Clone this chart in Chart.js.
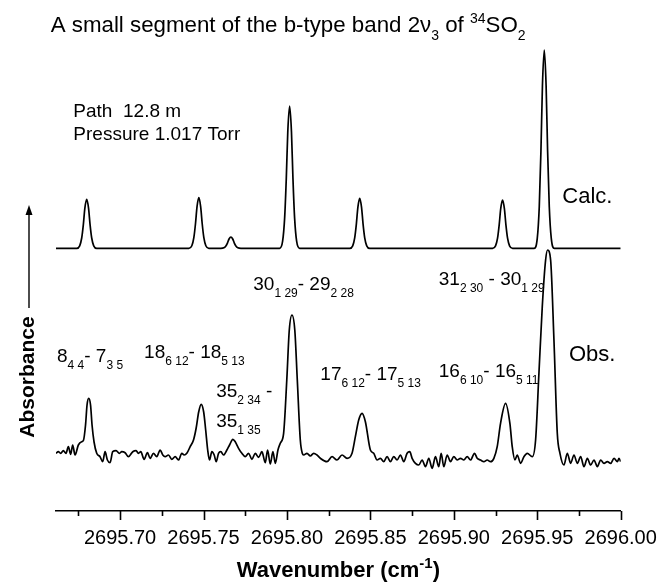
<!DOCTYPE html>
<html>
<head>
<meta charset="utf-8">
<script src="https://cdn.jsdelivr.net/npm/chart.js@4.4.0/dist/chart.umd.min.js"></script>
<style>
  html, body { margin: 0; padding: 0; background: #fff; }
  #wrap { width: 658px; height: 583px; }
</style>
</head>
<body>
<div id="wrap"><canvas id="spec" width="658" height="583"></canvas></div>
<script>
// wavenumber range of the plot (cm-1)
const X_MIN = 2695.6616;
const X_MAX = 2696.00;

// x axis ticks: every 0.025, labels on every 0.05
const tickValues = [2695.675, 2695.70, 2695.725, 2695.75, 2695.775, 2695.80, 2695.825,
  2695.85, 2695.875, 2695.90, 2695.925, 2695.95, 2695.975, 2696.00];
const tickLabels = ['', '2695.70', '', '2695.75', '', '2695.80', '',
  '2695.85', '', '2695.90', '', '2695.95', '', '2696.00'];

// vertical offsets of the two traces (arbitrary absorbance units)
const CALC_SHIFT = 2.627;
const OBS_SHIFT = 0.58;

// calculated spectrum
const calcWn = [2695.6616,
  2695.6740, 2695.6758, 2695.6770, 2695.6780, 2695.6789, 2695.6800, 2695.6811, 2695.6820, 2695.6830, 2695.6842, 2695.6860,
  2695.7412, 2695.7430, 2695.7442, 2695.7452, 2695.7461, 2695.7472, 2695.7483, 2695.7492, 2695.7502, 2695.7514, 2695.7532,
  2695.7604, 2695.7622, 2695.7634, 2695.7644, 2695.7653, 2695.7664, 2695.7675, 2695.7684, 2695.7694, 2695.7706, 2695.7724,
  2695.7956, 2695.7974, 2695.7986, 2695.7996, 2695.8005, 2695.8016, 2695.8027, 2695.8036, 2695.8046, 2695.8058, 2695.8076,
  2695.8376, 2695.8394, 2695.8406, 2695.8416, 2695.8425, 2695.8436, 2695.8447, 2695.8456, 2695.8466, 2695.8478, 2695.8496,
  2695.9232, 2695.9250, 2695.9262, 2695.9272, 2695.9281, 2695.9292, 2695.9303, 2695.9312, 2695.9322, 2695.9334, 2695.9352,
  2695.9482, 2695.9500, 2695.9512, 2695.9522, 2695.9531, 2695.9542, 2695.9553, 2695.9562, 2695.9572, 2695.9584, 2695.9602,
  2696.0000];
const calcAbs = [0,
  0, 0.025, 0.103, 0.240, 0.402, 0.490, 0.402, 0.240, 0.103, 0.025, 0,
  0, 0.025, 0.106, 0.248, 0.415, 0.506, 0.415, 0.248, 0.106, 0.025, 0,
  0, 0.006, 0.024, 0.055, 0.093, 0.113, 0.093, 0.055, 0.024, 0.006, 0,
  0, 0.071, 0.299, 0.697, 1.167, 1.423, 1.167, 0.697, 0.299, 0.071, 0,
  0, 0.025, 0.105, 0.245, 0.410, 0.500, 0.410, 0.245, 0.105, 0.025, 0,
  0, 0.024, 0.101, 0.237, 0.396, 0.483, 0.396, 0.237, 0.101, 0.024, 0,
  0, 0.099, 0.416, 0.972, 1.626, 1.983, 1.626, 0.972, 0.416, 0.099, 0,
  0];

// observed spectrum
const obsWn = [
  2695.6616, 2695.6630, 2695.6644, 2695.6660, 2695.6676, 2695.6690, 2695.6704, 2695.6716, 2695.6730, 2695.6750,
  2695.6770, 2695.6780, 2695.6793, 2695.6802, 2695.6812, 2695.6823, 2695.6832, 2695.6844, 2695.6860, 2695.6880,
  2695.6896, 2695.6910, 2695.6924, 2695.6940, 2695.6956, 2695.6976, 2695.6996, 2695.7010, 2695.7030, 2695.7050,
  2695.7076, 2695.7096, 2695.7110, 2695.7124, 2695.7144, 2695.7164, 2695.7180, 2695.7200, 2695.7220, 2695.7240,
  2695.7256, 2695.7270, 2695.7290, 2695.7310, 2695.7330, 2695.7350, 2695.7370, 2695.7384, 2695.7400, 2695.7420,
  2695.7440, 2695.7456, 2695.7471, 2695.7486, 2695.7501, 2695.7513, 2695.7525, 2695.7536, 2695.7550, 2695.7564,
  2695.7576, 2695.7590, 2695.7604, 2695.7620, 2695.7640, 2695.7656, 2695.7676, 2695.7690, 2695.7710, 2695.7730,
  2695.7750, 2695.7770, 2695.7790, 2695.7810, 2695.7830, 2695.7850, 2695.7870, 2695.7884, 2695.7900, 2695.7916,
  2695.7930, 2695.7946, 2695.7960, 2695.7980, 2695.7999, 2695.8014, 2695.8030, 2695.8047, 2695.8062, 2695.8080,
  2695.8092, 2695.8100, 2695.8120, 2695.8140, 2695.8160, 2695.8180, 2695.8200, 2695.8240, 2695.8270, 2695.8300,
  2695.8330, 2695.8360, 2695.8390, 2695.8410, 2695.8430, 2695.8450, 2695.8470, 2695.8500, 2695.8520, 2695.8540,
  2695.8560, 2695.8580, 2695.8600, 2695.8620, 2695.8640, 2695.8660, 2695.8680, 2695.8700, 2695.8720, 2695.8736,
  2695.8750, 2695.8770, 2695.8790, 2695.8810, 2695.8830, 2695.8850, 2695.8870, 2695.8890, 2695.8910, 2695.8924,
  2695.8940, 2695.8960, 2695.8980, 2695.9000, 2695.9020, 2695.9040, 2695.9060, 2695.9080, 2695.9100, 2695.9124,
  2695.9140, 2695.9160, 2695.9180, 2695.9200, 2695.9220, 2695.9240, 2695.9260, 2695.9280, 2695.9310, 2695.9336,
  2695.9350, 2695.9366, 2695.9380, 2695.9400, 2695.9420, 2695.9440, 2695.9470, 2695.9490, 2695.9510, 2695.9530,
  2695.9550, 2695.9562, 2695.9580, 2695.9600, 2695.9620, 2695.9636, 2695.9660, 2695.9680, 2695.9700, 2695.9720,
  2695.9740, 2695.9760, 2695.9780, 2695.9800, 2695.9820, 2695.9840, 2695.9860, 2695.9880, 2695.9900, 2695.9920,
  2695.9940, 2695.9960, 2695.9980, 2695.9990, 2696.0000];
const obsAbs = [
  -0.003, 0.013, -0.003, 0.023, -0.003, 0.063, -0.013, 0.080, -0.020, 0.080,
  0.113, 0.123, 0.280, 0.480, 0.547, 0.480, 0.280, 0.110, -0.003, -0.037,
  -0.087, 0.013, -0.070, -0.097, 0.013, 0.023, -0.003, 0.013, 0.003, -0.037,
  0.013, 0.023, -0.003, 0.013, -0.063, 0.003, -0.053, -0.003, -0.037, 0.030,
  -0.020, -0.037, -0.020, -0.063, -0.037, -0.070, -0.003, -0.020, -0.003, 0.063,
  0.130, 0.250, 0.410, 0.487, 0.410, 0.230, 0.030, -0.070, 0.013, -0.020,
  -0.087, -0.003, 0.013, -0.020, 0.030, 0.080, 0.137, 0.113, 0.047, -0.003,
  -0.037, -0.003, -0.063, -0.003, -0.043, 0.013, -0.097, 0.030, -0.110, 0.013,
  -0.103, 0.030, 0.097, 0.197, 0.730, 1.230, 1.380, 1.230, 0.730, 0.130,
  -0.003, -0.020, -0.003, -0.030, -0.003, -0.020, -0.053, -0.087, -0.037, -0.070,
  -0.020, -0.053, -0.003, 0.163, 0.330, 0.397, 0.313, 0.030, -0.003, -0.070,
  -0.053, -0.087, -0.037, -0.087, -0.037, -0.070, -0.020, -0.087, -0.003, 0.013,
  -0.053, -0.103, -0.120, -0.070, -0.137, -0.053, -0.153, -0.037, -0.137, -0.003,
  -0.137, -0.020, -0.087, -0.037, -0.070, -0.053, -0.070, -0.037, -0.070, -0.003,
  -0.053, -0.070, -0.087, -0.070, -0.087, -0.053, 0.063, 0.297, 0.497, 0.297,
  0.063, -0.070, -0.020, -0.103, -0.037, -0.003, -0.037, 0.130, 0.797, 1.463,
  1.930, 2.030, 1.930, 1.130, 0.197, -0.003, -0.120, -0.003, -0.103, -0.020,
  -0.103, -0.037, -0.137, -0.053, -0.120, -0.070, -0.137, -0.070, -0.103, -0.087,
  -0.103, -0.053, -0.087, -0.053, -0.087];

// text placed in the plot: [wavenumber, y (plot units), parts, font size]
const notes = [
  [2695.6720, 3.943, [['Path  12.8 m']]],
  [2695.6720, 3.710, [['Pressure 1.017 Torr']]],
  [2695.9650, 3.080, [['Calc.']], 22],
  [2695.9690, 1.500, [['Obs.']], 22],
  [2695.6622, 1.493, [['8'], ['4 4', 'sub'], ['- 7'], ['3 5', 'sub']]],
  [2695.7144, 1.530, [['18'], ['6 12', 'sub'], ['- 18'], ['5 13', 'sub']]],
  [2695.7576, 1.143, [['35'], ['2 34', 'sub'], [' -']]],
  [2695.7576, 0.843, [['35'], ['1 35', 'sub']]],
  [2695.7798, 2.210, [['30'], ['1 29', 'sub'], ['- 29'], ['2 28', 'sub']]],
  [2695.8910, 2.260, [['31'], ['2 30', 'sub'], [' - 30'], ['1 29', 'sub']]],
  [2695.8200, 1.310, [['17'], ['6 12', 'sub'], ['- 17'], ['5 13', 'sub']]],
  [2695.8910, 1.343, [['16'], ['6 10', 'sub'], ['- 16'], ['5 11', 'sub']]]
];

const FONT = '"Liberation Sans", Arial, sans-serif';

function drawRich(ctx, x, y, parts, size, small, bold) {
  let w = 0;
  for (const [txt, kind] of parts) {
    const fs = kind ? small : size;
    ctx.font = (bold ? 'bold ' : '') + fs + 'px ' + FONT;
    let dy = 0;
    if (kind === 'sub') dy = size * 0.38;
    if (kind === 'sup') dy = -size * 0.42;
    ctx.fillText(txt, x + w, y + dy);
    w += ctx.measureText(txt).width;
  }
  return w;
}

function richWidth(ctx, parts, size, small, bold) {
  let w = 0;
  for (const [txt, kind] of parts) {
    ctx.font = (bold ? 'bold ' : '') + (kind ? small : size) + 'px ' + FONT;
    w += ctx.measureText(txt).width;
  }
  return w;
}

const decorations = {
  id: 'decorations',
  afterDraw(chart) {
    const ctx = chart.ctx;
    const xs = chart.scales.x, ys = chart.scales.y;
    ctx.save();
    ctx.fillStyle = '#000';
    ctx.strokeStyle = '#000';
    ctx.textAlign = 'left';
    ctx.textBaseline = 'alphabetic';

    // tick marks, long on labelled ticks
    ctx.lineWidth = 1.6;
    xs.ticks.forEach((t, i) => {
      const px = Math.round(xs.getPixelForValue(t.value)) + 0.5;
      const len = tickLabels[i] ? 9 : 5;
      ctx.beginPath();
      ctx.moveTo(px, xs.top);
      ctx.lineTo(px, xs.top + len);
      ctx.stroke();
    });

    // title
    drawRich(ctx, 50.7, 32, [['A small segment of the b-type band 2ν'], ['3', 'sub'],
      [' of '], ['34', 'sup'], ['SO'], ['2', 'sub']], 22.3, 14, false);

    // notes in the plot
    notes.forEach(([wn, yv, parts, size]) => {
      drawRich(ctx, xs.getPixelForValue(wn), ys.getPixelForValue(yv), parts, size || 19, 12, false);
    });

    // x axis title
    const xt = [['Wavenumber (cm'], ['-1', 'sup'], [')']];
    const cx = (chart.chartArea.left + chart.chartArea.right) / 2;
    const tw = richWidth(ctx, xt, 22, 15, true);
    drawRich(ctx, cx - tw / 2, 577, xt, 22, 15, true);

    // y axis label with arrow
    ctx.save();
    ctx.translate(28, 377);
    ctx.rotate(-Math.PI / 2);
    ctx.font = 'bold 21px ' + FONT;
    ctx.textAlign = 'center';
    ctx.textBaseline = 'middle';
    ctx.fillText('Absorbance', 0, 0);
    ctx.restore();
    ctx.lineWidth = 1.4;
    ctx.beginPath();
    ctx.moveTo(29, 308);
    ctx.lineTo(29, 212);
    ctx.stroke();
    ctx.beginPath();
    ctx.moveTo(29, 205);
    ctx.lineTo(25.5, 215);
    ctx.lineTo(32.5, 215);
    ctx.closePath();
    ctx.fill();

    ctx.restore();
  }
};

new Chart(document.getElementById('spec'), {
  type: 'line',
  data: {
    datasets: [
      {
        label: 'Calc.',
        data: calcWn.map((w, i) => ({ x: w, y: calcAbs[i] + CALC_SHIFT })),
        borderColor: '#000',
        borderWidth: 1.7,
        pointRadius: 0,
        cubicInterpolationMode: 'monotone',
        fill: false
      },
      {
        label: 'Obs.',
        data: obsWn.map((w, i) => ({ x: w, y: obsAbs[i] + OBS_SHIFT })),
        borderColor: '#000',
        borderWidth: 1.7,
        pointRadius: 0,
        cubicInterpolationMode: 'monotone',
        fill: false
      }
    ]
  },
  options: {
    responsive: false,
    animation: false,
    devicePixelRatio: 1,
    layout: { padding: { left: 56, right: 37.3, top: 40, bottom: 0 } },
    plugins: { legend: { display: false }, tooltip: { enabled: false } },
    scales: {
      x: {
        type: 'linear',
        min: X_MIN,
        max: X_MAX,
        afterBuildTicks: scale => { scale.ticks = tickValues.map(v => ({ value: v })); },
        afterFit: scale => {
          scale.height = 72;
          scale.paddingLeft = 0;
          scale.paddingRight = 0;
        },
        ticks: {
          autoSkip: false,
          maxRotation: 0,
          padding: 15,
          color: '#000',
          font: { family: FONT, size: 20 },
          callback: (v, i) => tickLabels[i]
        },
        grid: { display: false, drawTicks: false },
        border: { display: true, color: '#000', width: 1.6 }
      },
      y: { display: false, min: 0, max: 4.71 }
    }
  },
  plugins: [decorations]
});
</script>
</body>
</html>
